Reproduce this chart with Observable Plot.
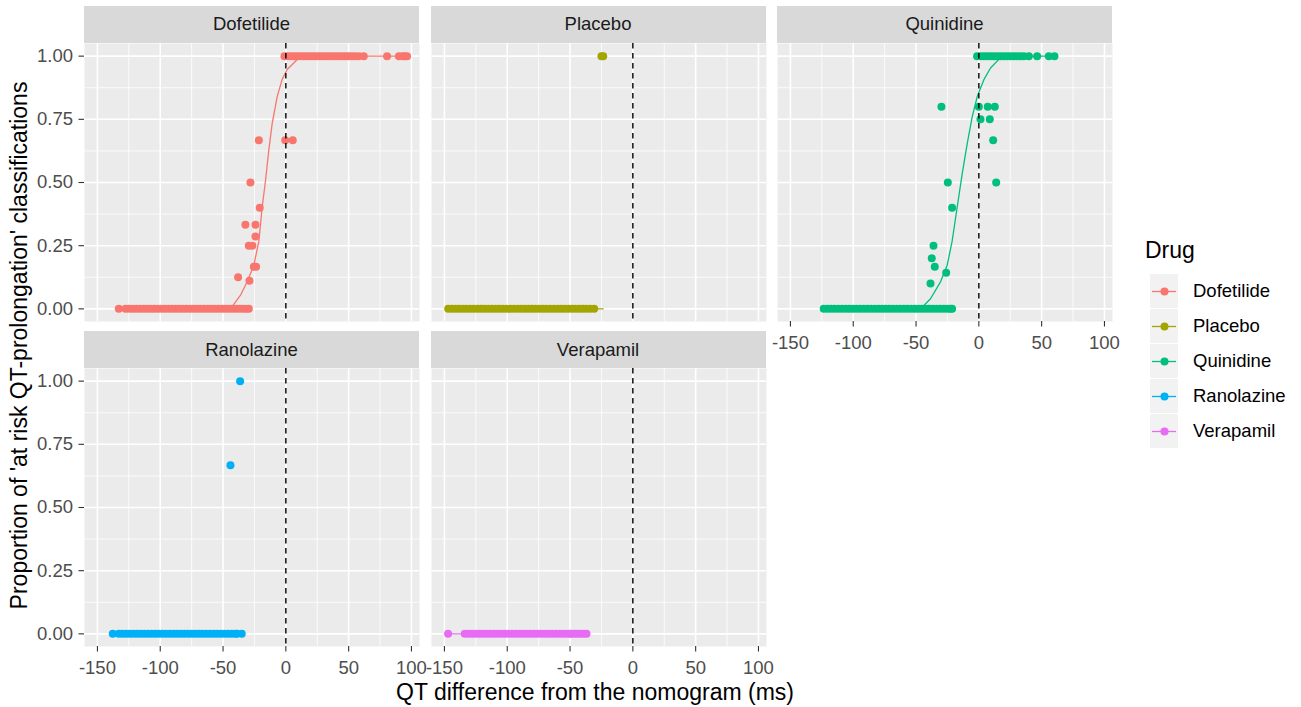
<!DOCTYPE html>
<html><head><meta charset="utf-8">
<script src="https://cdn.jsdelivr.net/npm/d3@7"></script>
<script src="https://cdn.jsdelivr.net/npm/@observablehq/plot@0.6"></script>
<style>
body{margin:0;background:#fff;font-family:"Liberation Sans",Arial,sans-serif;}
#root{position:relative;width:1301px;height:707px;overflow:hidden;background:#fff;}
.strip{position:absolute;background:#D9D9D9;color:#1A1A1A;font-size:18.5px;display:flex;align-items:center;justify-content:center;}
.panel{position:absolute;}
.title{position:absolute;color:#000;font-size:23px;white-space:nowrap;line-height:1;}
</style></head><body><div id="root"></div>
<script>
// ---------- data ----------
const drugs = ["Dofetilide", "Placebo", "Quinidine", "Ranolazine", "Verapamil"];
const drugColors = ["#F8766D", "#A3A500", "#00BF7D", "#00B0F6", "#E76BF3"];
const xTicks = [-150, -100, -50, 0, 50, 100];
const xMinorTicks = [-125, -75, -25, 25, 75];
const yTicks = [0, 0.25, 0.5, 0.75, 1];
const yMinorTicks = [0.125, 0.375, 0.625, 0.875];

// Dofetilide
const dofetilideAtZero = [-133, -127.6, -124.8, -121.9, -119.1, -116.3, -113.4, -110.5, -107.7, -104.9, -102.0, -99.2, -96.3, -93.5, -90.6, -87.8, -85.0, -82.1, -79.3, -76.4, -73.6, -70.7, -67.9, -65.0, -62.2, -59.4, -56.5, -53.7, -50.8, -48.0, -45.1, -42.3, -39.5, -36.6, -33.8, -31.5, -29.5];
const dofetilideAtOne = [-1.1, 1.5, 4.0, 6.6, 9.1, 11.7, 14.2, 16.8, 19.3, 21.9, 24.4, 27.0, 29.5, 32.1, 34.6, 37.2, 39.7, 42.3, 44.8, 47.4, 49.9, 52.5, 55.0, 58.0, 62.0, 80.6, 90.0, 93.0, 94.5, 96.5];
const dofetilideBetween = [[-21.5, 0.667], [-0.5, 0.667], [5.5, 0.667], [-28.2, 0.5], [-20.8, 0.4], [-32.2, 0.333], [-24.2, 0.333], [-24.2, 0.286], [-29.5, 0.25], [-26.6, 0.25], [-25.5, 0.167], [-23.7, 0.167], [-38.0, 0.125], [-29.0, 0.111]];
const dofetilideFit = [[-133, 0], [-44.1, 0], [-36.1, 0.054], [-30.8, 0.107], [-25.5, 0.173], [-21.5, 0.267], [-18.9, 0.40], [-16.2, 0.507], [-13.6, 0.627], [-10.9, 0.733], [-6.9, 0.84], [-3.0, 0.907], [1.0, 0.947], [6.3, 0.973], [10.3, 0.993], [20, 1], [96.5, 1]];

// Placebo
const placeboAtZero = [-147.0, -144.1, -141.2, -138.3, -135.4, -132.5, -129.6, -126.7, -123.8, -120.9, -118.0, -115.1, -112.2, -109.3, -106.4, -103.5, -100.6, -97.7, -94.8, -91.9, -89.0, -86.1, -83.2, -80.3, -77.4, -74.5, -71.6, -68.7, -65.8, -62.9, -60.0, -57.1, -54.2, -51.3, -48.4, -45.5, -42.6, -39.7, -36.8, -33.9, -30.8];
const placeboAtOne = [-25.0, -23.6];
const placeboBetween = [];
const placeboFit = [[-147.0, 0], [-23.6, 0]];

// Quinidine
const quinidineAtZero = [-123.5, -120.6, -117.7, -114.8, -111.9, -109.0, -106.1, -103.2, -100.3, -97.4, -94.5, -91.6, -88.7, -85.8, -82.9, -80.0, -77.1, -74.2, -71.3, -68.4, -65.5, -62.6, -59.7, -56.8, -53.9, -51.0, -48.1, -45.2, -42.3, -39.4, -36.5, -33.6, -30.7, -27.8, -24.9, -22.5, -21.3];
const quinidineAtOne = [-1.4, 1.2, 3.9, 6.5, 9.2, 11.8, 14.5, 17.1, 19.8, 22.4, 25.1, 27.7, 30.4, 33.0, 35.8, 39.8, 46.4, 55.7, 60.2];
const quinidineBetween = [[-29.8, 0.8], [0, 0.8], [7.1, 0.8], [12.7, 0.8], [1.3, 0.75], [8.7, 0.75], [11.4, 0.667], [-24.7, 0.5], [13.8, 0.5], [-21.3, 0.4], [-36.1, 0.25], [-37.5, 0.2], [-35.1, 0.167], [-26.0, 0.143], [-38.5, 0.1]];
const quinidineFit = [[-123.5, 0], [-46.5, 0], [-38.5, 0.04], [-30.5, 0.107], [-25.2, 0.173], [-21.3, 0.267], [-17.3, 0.40], [-13.3, 0.533], [-9.3, 0.653], [-5.3, 0.76], [-1.3, 0.84], [4.0, 0.907], [9.3, 0.953], [15.9, 0.987], [21.2, 0.997], [30, 1], [60.2, 1]];

// Ranolazine
const ranolazineAtZero = [-137.8, -133.0, -130.1, -127.2, -124.3, -121.4, -118.5, -115.6, -112.7, -109.8, -106.9, -104.0, -101.1, -98.2, -95.3, -92.4, -89.5, -86.6, -83.7, -80.8, -77.9, -75.0, -72.1, -69.2, -66.3, -63.4, -60.5, -57.6, -54.7, -51.8, -48.9, -46.0, -43.1, -40.2, -38.8, -35.1];
const ranolazineAtOne = [-36.4];
const ranolazineBetween = [[-44.1, 0.667]];
const ranolazineFit = [[-137.8, 0], [-35.1, 0]];

// Verapamil
const verapamilAtZero = [-147.1, -133.8, -130.9, -128.0, -125.1, -122.2, -119.3, -116.4, -113.5, -110.6, -107.7, -104.8, -101.9, -99.0, -96.1, -93.2, -90.3, -87.4, -84.5, -81.6, -78.7, -75.8, -72.9, -70.0, -67.1, -64.2, -61.3, -58.4, -55.5, -52.6, -50.0, -48.9, -46.3, -43.9, -41.5, -39.2, -36.9];
const verapamilAtOne = [];
const verapamilBetween = [];
const verapamilFit = [[-147.1, 0], [-36.9, 0]];

const xLabel = "QT difference from the nomogram (ms)";
const yLabel = "Proportion of 'at risk QT-prolongation' classifications";
const legendTitle = "Drug";

// ---------- assemble tables ----------
const source = {
  Dofetilide: [dofetilideAtZero, dofetilideAtOne, dofetilideBetween, dofetilideFit],
  Placebo: [placeboAtZero, placeboAtOne, placeboBetween, placeboFit],
  Quinidine: [quinidineAtZero, quinidineAtOne, quinidineBetween, quinidineFit],
  Ranolazine: [ranolazineAtZero, ranolazineAtOne, ranolazineBetween, ranolazineFit],
  Verapamil: [verapamilAtZero, verapamilAtOne, verapamilBetween, verapamilFit]
};
function pointsOf(drug) {
  const [z, o, b] = source[drug];
  return [
    ...z.map(x => ({x, p: 0, drug})),
    ...o.map(x => ({x, p: 1, drug})),
    ...b.map(([x, p]) => ({x, p, drug}))
  ];
}
function fitOf(drug) {
  return source[drug][3].map(([x, p]) => ({x, p, drug}));
}

// ---------- layout ----------
const colLeft = [84, 430.5, 777];
const panelW = 335;
const rowStripTop = [6, 331];
const stripH = [36.5, 37];
const rowTop = [42.5, 368];
const panelH = 278;
const layout = {
  Dofetilide: {c: 0, r: 0, xAxis: false, yAxis: true},
  Placebo: {c: 1, r: 0, xAxis: false, yAxis: false},
  Quinidine: {c: 2, r: 0, xAxis: true, yAxis: false},
  Ranolazine: {c: 0, r: 1, xAxis: true, yAxis: true},
  Verapamil: {c: 1, r: 1, xAxis: true, yAxis: false}
};

const root = document.getElementById("root");
const font = '"Liberation Sans", Arial, sans-serif';

for (const drug of drugs) {
  const L = layout[drug];
  const strip = document.createElement("div");
  strip.className = "strip";
  strip.style.left = colLeft[L.c] + "px";
  strip.style.top = rowStripTop[L.r] + "px";
  strip.style.width = panelW + "px";
  strip.style.height = stripH[L.r] + "px";
  strip.textContent = drug;
  root.appendChild(strip);

  const marks = [
    Plot.frame({fill: "#EBEBEB", stroke: null}),
    Plot.ruleX(xMinorTicks, {stroke: "#fff", strokeWidth: 0.8}),
    Plot.ruleY(yMinorTicks, {stroke: "#fff", strokeWidth: 0.8}),
    Plot.ruleX(xTicks, {stroke: "#fff", strokeWidth: 1.6}),
    Plot.ruleY(yTicks, {stroke: "#fff", strokeWidth: 1.6}),
    Plot.line(fitOf(drug), {x: "x", y: "p", stroke: "drug", strokeWidth: 1.3}),
    Plot.dot(pointsOf(drug), {x: "x", y: "p", fill: "drug", r: 4, stroke: null}),
    Plot.ruleX([0], {stroke: "#000", strokeWidth: 1.4, strokeDasharray: "5.5,4.5"})
  ];
  if (L.xAxis) marks.push(Plot.axisX(xTicks, {tickSize: 5.5, tickPadding: 8.5, fontSize: 18.5, color: "#4D4D4D", stroke: "#333", strokeWidth: 1.1, tickFormat: d => String(d), label: null}));
  if (L.yAxis) marks.push(Plot.axisY(yTicks, {tickSize: 5.5, tickPadding: 6, fontSize: 18.5, color: "#4D4D4D", stroke: "#333", strokeWidth: 1.1, tickFormat: d => d.toFixed(2), label: null}));

  const svg = Plot.plot({
    width: panelW, height: panelH,
    marginTop: 0, marginRight: 0, marginBottom: 0, marginLeft: 0,
    x: {domain: [-160.3, 106.4], label: null, axis: null},
    y: {domain: [-0.05, 1.05], label: null, axis: null},
    color: {domain: drugs, range: drugColors},
    style: {overflow: "visible", fontFamily: font, background: "transparent"},
    marks
  });
  svg.classList.add("panel");
  svg.style.left = colLeft[L.c] + "px";
  svg.style.top = rowTop[L.r] + "px";
  svg.style.position = "absolute";
  root.appendChild(svg);
}

// axis titles
const xt = document.createElement("div");
xt.className = "title";
xt.textContent = xLabel;
root.appendChild(xt);
xt.style.left = (595 - xt.offsetWidth / 2) + "px";
xt.style.top = "681px";

const yt = document.createElement("div");
yt.className = "title";
yt.textContent = yLabel;
root.appendChild(yt);
yt.style.left = (20 - yt.offsetWidth / 2) + "px";
yt.style.top = (345 - yt.offsetHeight / 2) + "px";
yt.style.transform = "rotate(-90deg)";

// legend
const lt = document.createElement("div");
lt.className = "title";
lt.textContent = legendTitle;
lt.style.left = "1145px";
lt.style.top = "239px";
root.appendChild(lt);

const legend = Plot.plot({
  width: 150, height: 178,
  marginTop: 0, marginRight: 0, marginBottom: 0, marginLeft: 0,
  x: {type: "band", domain: ["key"], range: [0, 34.5], axis: null},
  y: {type: "band", domain: drugs, range: [0, 178], paddingInner: 0.03, paddingOuter: 0, axis: null},
  color: {domain: drugs, range: drugColors},
  style: {overflow: "visible", fontFamily: font, background: "transparent"},
  marks: [
    Plot.cell(drugs, {x: () => "key", y: d => d, fill: "#F2F2F2"}),
    Plot.tickY(drugs, {x: () => "key", y: d => d, stroke: d => d, strokeWidth: 1.3, inset: 2}),
    Plot.dot(drugs, {x: () => "key", y: d => d, fill: d => d, r: 4}),
    Plot.text(drugs, {x: () => "key", y: d => d, text: d => d, dx: 28.5, textAnchor: "start", fontSize: 18.5, fill: "#000"})
  ]
});
legend.style.position = "absolute";
legend.style.left = "1147.3px";
legend.style.top = "272px";
root.appendChild(legend);
</script>
</body></html>
